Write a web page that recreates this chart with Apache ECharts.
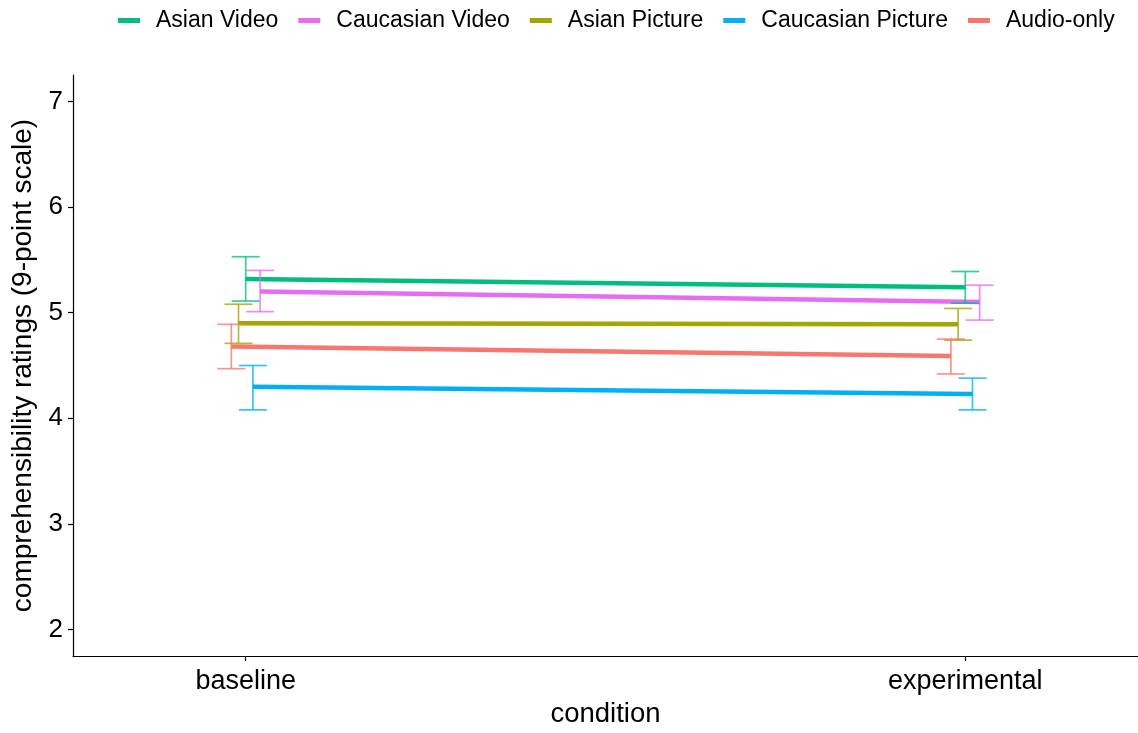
<!DOCTYPE html>
<html>
<head>
<meta charset="utf-8">
<script src="https://cdn.jsdelivr.net/npm/echarts@6/dist/echarts.min.js"></script>
<style>
  html, body { margin: 0; padding: 0; background: #fff; }
  #chart { width: 1138px; height: 733px; }
</style>
</head>
<body>
<div id="chart"></div>
<script>
// Conditions on the x axis and the y tick values
const conditions = ['baseline', 'experimental'];
const yTicks = [2, 3, 4, 5, 6, 7];

// Groups (legend order), colours and dodge offsets (in category units)
const groups = ['Asian Video', 'Caucasian Video', 'Asian Picture', 'Caucasian Picture', 'Audio-only'];
const colors = ['#00BF7D', '#E76BF3', '#A3A500', '#00B0F6', '#F8766D'];
const dodge = [0.0, 0.02, -0.01, 0.01, -0.02];

// Mean ratings per group: [baseline, experimental]
const asianVideo       = [5.32, 5.24];
const caucasianVideo   = [5.20, 5.10];
const asianPicture     = [4.90, 4.89];
const caucasianPicture = [4.30, 4.23];
const audioOnly        = [4.68, 4.59];

// Error bar bounds: [low, high] per condition
const asianVideoErr       = [[5.11, 5.53], [5.09, 5.39]];
const caucasianVideoErr   = [[5.01, 5.40], [4.93, 5.26]];
const asianPictureErr     = [[4.71, 5.08], [4.74, 5.04]];
const caucasianPictureErr = [[4.08, 4.50], [4.08, 4.38]];
const audioOnlyErr        = [[4.47, 4.89], [4.42, 4.75]];

const means = [asianVideo, caucasianVideo, asianPicture, caucasianPicture, audioOnly];
const errs = [asianVideoErr, caucasianVideoErr, asianPictureErr, caucasianPictureErr, audioOnlyErr];

const capHalf = 0.0195;
const font = 'Liberation Sans, Arial, sans-serif';

const series = [];
groups.forEach((g, i) => {
  series.push({
    name: g,
    type: 'line',
    data: means[i].map((v, k) => [k + 1 + dodge[i], v]),
    symbol: 'none',
    lineStyle: { width: 4.5, color: colors[i] },
    itemStyle: { color: colors[i] },
    z: 2,
    silent: true
  });
});

groups.forEach((g, i) => {
  series.push({
    name: g,
    type: 'custom',
    data: errs[i].map((e, k) => [k + 1 + dodge[i], e[0], e[1]]),
    renderItem: function (params, api) {
      const x = api.value(0);
      const lo = api.coord([x, api.value(1)]);
      const hi = api.coord([x, api.value(2)]);
      const l = api.coord([x - capHalf, api.value(1)])[0];
      const r = api.coord([x + capHalf, api.value(1)])[0];
      const style = { stroke: colors[i], lineWidth: 1.7, opacity: 0.78 };
      return {
        type: 'group',
        children: [
          { type: 'line', shape: { x1: lo[0], y1: lo[1], x2: hi[0], y2: hi[1] }, style: style },
          { type: 'line', shape: { x1: l, y1: lo[1], x2: r, y2: lo[1] }, style: style },
          { type: 'line', shape: { x1: l, y1: hi[1], x2: r, y2: hi[1] }, style: style }
        ]
      };
    },
    z: 3,
    silent: true
  });
});

const chart = echarts.init(document.getElementById('chart'));
chart.setOption({
  animation: false,
  backgroundColor: '#ffffff',
  legend: {
    top: 4,
    left: 113,
    data: groups.map((g, i) => ({ name: g, icon: 'rect', itemStyle: { color: colors[i] } })),
    itemWidth: 22,
    itemHeight: 5,
    itemGap: 20,
    textStyle: { fontFamily: font, fontSize: 23, color: '#000', padding: [0, 0, 0, 11] }
  },
  grid: { left: 73, right: 0, top: 75, bottom: 67, containLabel: false },
  xAxis: {
    type: 'value',
    min: 0.76,
    max: 2.24,
    name: 'condition',
    nameLocation: 'middle',
    nameGap: 44,
    nameTextStyle: { fontFamily: font, fontSize: 27.5, color: '#000' },
    axisLine: { show: true, lineStyle: { color: '#000', width: 1.2 } },
    axisTick: { show: true, length: 5, customValues: [1, 2], lineStyle: { color: '#000', width: 1.2 } },
    axisLabel: {
      customValues: [1, 2],
      formatter: v => conditions[Math.round(v) - 1],
      fontFamily: font, fontSize: 27, color: '#000', margin: 12
    },
    splitLine: { show: false }
  },
  yAxis: {
    type: 'value',
    min: 1.75,
    max: 7.25,
    name: 'comprehensibility ratings (9-point scale)',
    nameLocation: 'middle',
    nameGap: 35,
    nameTextStyle: { fontFamily: font, fontSize: 28, color: '#000' },
    axisLine: { show: true, lineStyle: { color: '#000', width: 1.2 } },
    axisTick: { show: true, length: 5, customValues: yTicks, lineStyle: { color: '#000', width: 1.2 } },
    axisLabel: {
      customValues: yTicks,
      fontFamily: font, fontSize: 26, color: '#000', margin: 10
    },
    splitLine: { show: false }
  },
  series: series
});
</script>
</body>
</html>
